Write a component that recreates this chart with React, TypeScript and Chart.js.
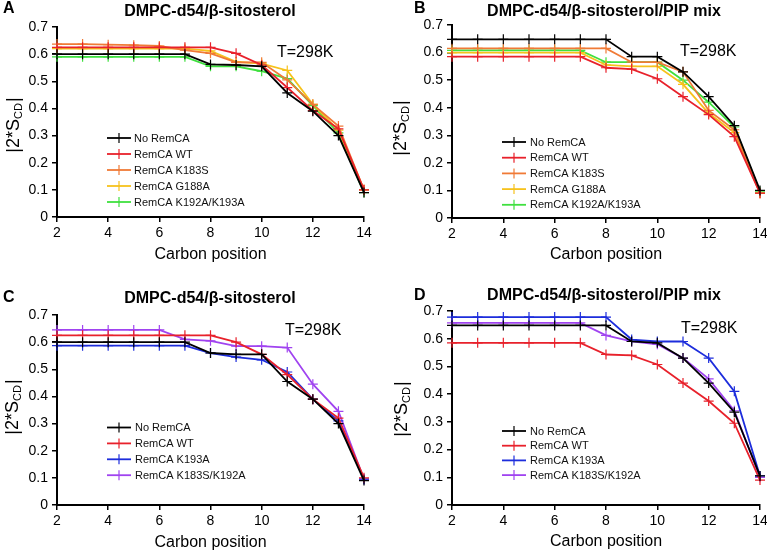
import React, { useEffect, useRef } from "react";
import { Chart, registerables } from "chart.js";
Chart.register(...registerables);

const carbons = [2, 3, 4, 5, 6, 7, 8, 9, 10, 11, 12, 13, 14];
const yTickLabels = ["0", "0.1", "0.2", "0.3", "0.4", "0.5", "0.6", "0.7"];

// Panel A: DMPC-d54/β-sitosterol
const aNoRemCA = [0.600, 0.600, 0.600, 0.600, 0.600, 0.600, 0.562, 0.560, 0.555, 0.457, 0.390, 0.300, 0.090];
const aWT = [0.625, 0.625, 0.625, 0.625, 0.625, 0.625, 0.625, 0.603, 0.560, 0.477, 0.392, 0.325, 0.100];
const aK183S = [0.637, 0.637, 0.635, 0.633, 0.630, 0.615, 0.603, 0.570, 0.570, 0.505, 0.415, 0.335, 0.100];
const aG188A = [0.620, 0.620, 0.620, 0.620, 0.620, 0.620, 0.612, 0.572, 0.565, 0.540, 0.415, 0.320, 0.100];
const aK192AK193A = [0.590, 0.590, 0.590, 0.590, 0.590, 0.590, 0.555, 0.555, 0.537, 0.510, 0.410, 0.310, 0.090];

// Panel B: DMPC-d54/β-sitosterol/PIP mix
const bNoRemCA = [0.648, 0.648, 0.648, 0.648, 0.648, 0.648, 0.648, 0.585, 0.585, 0.530, 0.440, 0.335, 0.100];
const bWT = [0.585, 0.585, 0.585, 0.585, 0.585, 0.585, 0.545, 0.540, 0.505, 0.440, 0.375, 0.295, 0.090];
const bK183S = [0.615, 0.615, 0.615, 0.615, 0.615, 0.615, 0.615, 0.565, 0.565, 0.530, 0.390, 0.320, 0.090];
const bG188A = [0.600, 0.600, 0.600, 0.600, 0.600, 0.600, 0.555, 0.550, 0.550, 0.485, 0.380, 0.310, 0.090];
const bK192AK193A = [0.608, 0.608, 0.608, 0.608, 0.608, 0.608, 0.565, 0.565, 0.565, 0.500, 0.420, 0.330, 0.095];

// Panel C: DMPC-d54/β-sitosterol
const cNoRemCA = [0.600, 0.600, 0.600, 0.600, 0.600, 0.600, 0.560, 0.555, 0.555, 0.455, 0.390, 0.300, 0.090];
const cWT = [0.625, 0.625, 0.625, 0.625, 0.625, 0.625, 0.625, 0.600, 0.555, 0.480, 0.390, 0.320, 0.100];
const cK193A = [0.587, 0.587, 0.587, 0.587, 0.587, 0.587, 0.560, 0.545, 0.535, 0.490, 0.390, 0.310, 0.095];
const cK183SK192A = [0.645, 0.645, 0.645, 0.645, 0.645, 0.610, 0.605, 0.585, 0.585, 0.580, 0.445, 0.345, 0.095];

// Panel D: DMPC-d54/β-sitosterol/PIP mix
const dNoRemCA = [0.648, 0.648, 0.648, 0.648, 0.648, 0.648, 0.648, 0.590, 0.585, 0.530, 0.440, 0.335, 0.105];
const dWT = [0.585, 0.585, 0.585, 0.585, 0.585, 0.585, 0.543, 0.540, 0.507, 0.440, 0.375, 0.295, 0.090];
const dK193A = [0.678, 0.678, 0.678, 0.678, 0.678, 0.678, 0.678, 0.597, 0.590, 0.590, 0.530, 0.410, 0.105];
const dK183SK192A = [0.657, 0.657, 0.657, 0.657, 0.657, 0.657, 0.612, 0.590, 0.580, 0.530, 0.455, 0.340, 0.100];

const titleAC = "DMPC-d54/β-sitosterol";
const titleBD = "DMPC-d54/β-sitosterol/PIP mix";

const COLORS = {
  black: "#000000",
  red: "#e8212b",
  orange: "#f07a36",
  yellow: "#f6c21c",
  green: "#3fe03f",
  blue: "#1d2ddc",
  purple: "#a043f0",
};

const FONT = "Arial, 'Liberation Sans', Helvetica, sans-serif";

type Series = { label: string; data: number[]; color: string };
type Panel = {
  letter: string;
  title: string;
  series: Series[];
  left: number;
  top: number;
  area: { top: number; right: number; yW: number; xH: number; tpb: number };
  titlePos: [number, number];
  letterPos: [number, number];
  tempPos: [number, number];
  yTitlePos: [number, number];
  legend: { x1: number; x2: number; tx: number; y0: number; dy: number };
};

const CW = 400;
const CH = 300;

const panels: Panel[] = [
  {
    letter: "A",
    title: titleAC,
    series: [
      { label: "No RemCA", data: aNoRemCA, color: COLORS.black },
      { label: "RemCA WT", data: aWT, color: COLORS.red },
      { label: "RemCA K183S", data: aK183S, color: COLORS.orange },
      { label: "RemCA G188A", data: aG188A, color: COLORS.yellow },
      { label: "RemCA K192A/K193A", data: aK192AK193A, color: COLORS.green },
    ],
    left: 0,
    top: 0,
    area: { top: 27, right: CW - 364, yW: 57, xH: CH - 217, tpb: CH - 253 - 10.8 },
    titlePos: [210, 12],
    letterPos: [3, 9],
    tempPos: [277, 53],
    yTitlePos: [12, 125],
    legend: { x1: 107, x2: 131, tx: 134, y0: 138, dy: 16 },
  },
  {
    letter: "B",
    title: titleBD,
    series: [
      { label: "No RemCA", data: bNoRemCA, color: COLORS.black },
      { label: "RemCA WT", data: bWT, color: COLORS.red },
      { label: "RemCA K183S", data: bK183S, color: COLORS.orange },
      { label: "RemCA G188A", data: bG188A, color: COLORS.yellow },
      { label: "RemCA K192A/K193A", data: bK192AK193A, color: COLORS.green },
    ],
    left: 384,
    top: 0,
    area: { top: 25, right: CW - 376, yW: 68, xH: CH - 218, tpb: CH - 253 - 10.8 },
    titlePos: [220, 12],
    letterPos: [30, 9],
    tempPos: [296, 52],
    yTitlePos: [15, 128],
    legend: { x1: 118, x2: 142, tx: 146, y0: 142, dy: 15.7 },
  },
  {
    letter: "C",
    title: titleAC,
    series: [
      { label: "No RemCA", data: cNoRemCA, color: COLORS.black },
      { label: "RemCA WT", data: cWT, color: COLORS.red },
      { label: "RemCA K193A", data: cK193A, color: COLORS.blue },
      { label: "RemCA K183S/K192A", data: cK183SK192A, color: COLORS.purple },
    ],
    left: 0,
    top: 276,
    area: { top: 39, right: CW - 364, yW: 57, xH: CH - 229, tpb: CH - 265 - 10.8 },
    titlePos: [210, 23],
    letterPos: [3, 22],
    tempPos: [285, 55],
    yTitlePos: [11, 131],
    legend: { x1: 107, x2: 131, tx: 135, y0: 151.5, dy: 15.9 },
  },
  {
    letter: "D",
    title: titleBD,
    series: [
      { label: "No RemCA", data: dNoRemCA, color: COLORS.black },
      { label: "RemCA WT", data: dWT, color: COLORS.red },
      { label: "RemCA K193A", data: dK193A, color: COLORS.blue },
      { label: "RemCA K183S/K192A", data: dK183SK192A, color: COLORS.purple },
    ],
    left: 384,
    top: 276,
    area: { top: 35, right: CW - 376, yW: 68, xH: CH - 229, tpb: CH - 264 - 10.8 },
    titlePos: [220, 20],
    letterPos: [30, 20],
    tempPos: [297, 53],
    yTitlePos: [16, 133],
    legend: { x1: 118, x2: 142, tx: 146, y0: 155, dy: 14.7 },
  },
];

function makeAnnotPlugin(p: Panel) {
  return {
    id: "annot" + p.letter,
    afterDraw(chart: any) {
      const ctx: CanvasRenderingContext2D = chart.ctx;
      ctx.save();
      ctx.fillStyle = "#000";
      // Panel letter
      ctx.font = `bold 16px ${FONT}`;
      ctx.textAlign = "left";
      ctx.textBaseline = "middle";
      ctx.fillText(p.letter, p.letterPos[0], p.letterPos[1]);
      // Title
      ctx.font = `bold 16px ${FONT}`;
      ctx.textAlign = "center";
      ctx.fillText(p.title, p.titlePos[0], p.titlePos[1]);
      // Temperature
      ctx.font = `16px ${FONT}`;
      ctx.textAlign = "left";
      ctx.fillText("T=298K", p.tempPos[0], p.tempPos[1]);
      // Y axis title with subscript
      ctx.save();
      ctx.translate(p.yTitlePos[0], p.yTitlePos[1]);
      ctx.rotate(-Math.PI / 2);
      const mainFont = `18px ${FONT}`;
      const subFont = `11px ${FONT}`;
      ctx.font = mainFont;
      const w1 = ctx.measureText("|2*S").width;
      const w3 = ctx.measureText("|").width;
      ctx.font = subFont;
      const w2 = ctx.measureText("CD").width;
      const total = w1 + w2 + w3 + 1;
      let x = -total / 2;
      ctx.textAlign = "left";
      ctx.textBaseline = "alphabetic";
      ctx.font = mainFont;
      ctx.fillText("|2*S", x, 6.5);
      x += w1;
      ctx.font = subFont;
      ctx.fillText("CD", x, 9.5);
      x += w2 + 1;
      ctx.font = mainFont;
      ctx.fillText("|", x, 6.5);
      ctx.restore();
      // Legend
      const L = p.legend;
      p.series.forEach((s, i) => {
        const y = L.y0 + i * L.dy;
        ctx.strokeStyle = s.color;
        ctx.lineWidth = 1.8;
        ctx.beginPath();
        ctx.moveTo(L.x1, y);
        ctx.lineTo(L.x2, y);
        ctx.stroke();
        ctx.lineWidth = 1.2;
        const mx = (L.x1 + L.x2) / 2;
        ctx.beginPath();
        ctx.moveTo(mx, y - 5);
        ctx.lineTo(mx, y + 5);
        ctx.stroke();
        ctx.fillStyle = "#111";
        ctx.font = `11px ${FONT}`;
        ctx.textAlign = "left";
        ctx.textBaseline = "middle";
        ctx.fillText(s.label, L.tx, y + 0.5);
      });
      ctx.restore();
    },
  };
}

function PanelChart({ p }: { p: Panel }) {
  const ref = useRef<HTMLCanvasElement | null>(null);
  useEffect(() => {
    if (!ref.current) return;
    const datasets = p.series.map((s) => ({
      label: s.label,
      data: carbons.map((c, i) => ({ x: c, y: s.data[i] })),
      borderColor: s.color,
      backgroundColor: s.color,
      borderWidth: 1.8,
      tension: 0,
      pointStyle: "cross" as const,
      pointRadius: 5,
      pointBorderWidth: 1.2,
      pointBorderColor: s.color,
      clip: false as any,
    }));
    const chart = new Chart(ref.current, {
      type: "line",
      data: { datasets },
      options: {
        animation: false,
        responsive: false,
        maintainAspectRatio: false,
        layout: { padding: { top: p.area.top, right: p.area.right, left: 0, bottom: 0 } },
        plugins: { legend: { display: false }, tooltip: { enabled: false }, title: { display: false } },
        scales: {
          x: {
            type: "linear",
            min: 2,
            max: 14,
            afterFit: (s: any) => {
              s.height = p.area.xH;
            },
            ticks: {
              stepSize: 2,
              color: "#000",
              font: { family: FONT, size: 14 },
              padding: 3,
              maxRotation: 0,
            },
            grid: {
              display: true,
              drawOnChartArea: false,
              drawTicks: true,
              tickLength: 5,
              color: "#000",
              lineWidth: 1.5,
            },
            border: { display: true, color: "#000", width: 2 },
            title: {
              display: true,
              text: "Carbon position",
              color: "#000",
              font: { family: FONT, size: 16 },
              padding: { top: 0, bottom: p.area.tpb },
            },
          },
          y: {
            type: "linear",
            min: 0,
            max: 0.7,
            afterFit: (s: any) => {
              s.width = p.area.yW;
            },
            ticks: {
              stepSize: 0.1,
              color: "#000",
              font: { family: FONT, size: 14 },
              padding: 4,
              callback: (v: any) => {
                const idx = Math.round(Number(v) * 10);
                return yTickLabels[idx] ?? "";
              },
            },
            grid: {
              display: true,
              drawOnChartArea: false,
              drawTicks: true,
              tickLength: 5,
              color: "#000",
              lineWidth: 1.5,
            },
            border: { display: true, color: "#000", width: 2 },
          },
        },
      },
      plugins: [makeAnnotPlugin(p)],
    } as any);
    return () => chart.destroy();
  }, [p]);
  return (
    <canvas
      ref={ref}
      width={CW}
      height={CH}
      style={{ position: "absolute", left: p.left, top: p.top, width: CW, height: CH }}
    />
  );
}

export default function App() {
  return (
    <div
      style={{
        position: "fixed",
        left: 0,
        top: 0,
        width: 767,
        height: 551,
        overflow: "hidden",
        background: "#fff",
      }}
    >
      {panels.map((p) => (
        <PanelChart key={p.letter} p={p} />
      ))}
    </div>
  );
}
